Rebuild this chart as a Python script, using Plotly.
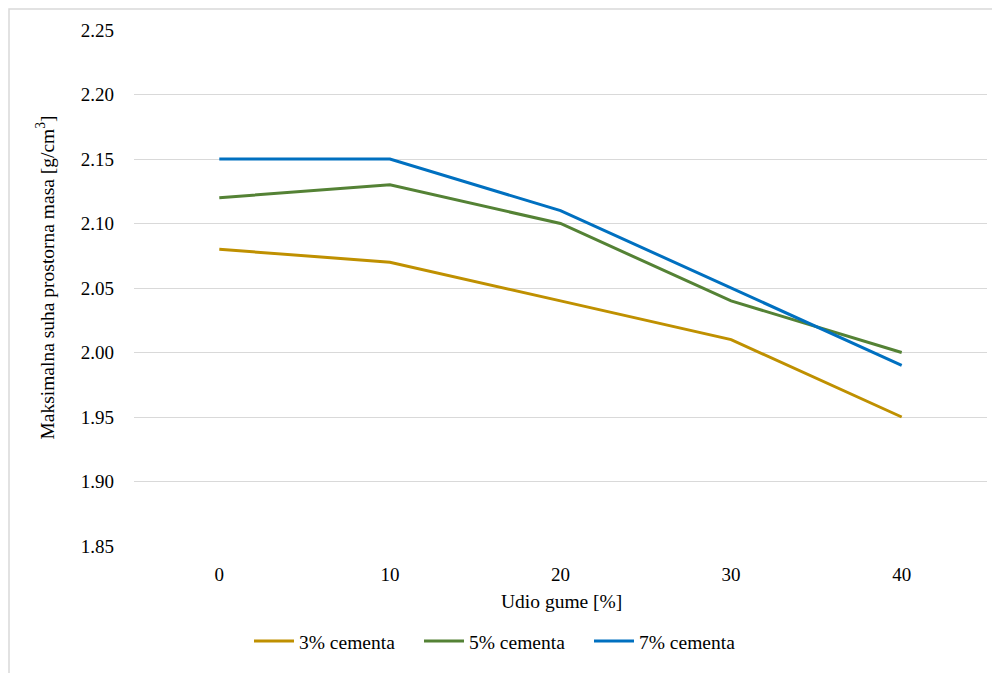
import plotly.graph_objects as go

categories = ["0", "10", "20", "30", "40"]
cem3 = [2.08, 2.07, 2.04, 2.01, 1.95]
cem5 = [2.12, 2.13, 2.10, 2.04, 2.00]
cem7 = [2.15, 2.15, 2.11, 2.05, 1.99]
series_names = ["3% cementa", "5% cementa", "7% cementa"]
colors = ["#BF9000", "#548235", "#0070C0"]
yticks = [1.85, 1.90, 1.95, 2.00, 2.05, 2.10, 2.15, 2.20, 2.25]

FONT = "Liberation Serif, Times New Roman, serif"
OFF = 8  # page body margin
TS = 19  # tick font size
LS = 19.5  # legend font size
AS = 19.5  # axis title font size

fig = go.Figure()
for name, vals, col in zip(series_names, [cem3, cem5, cem7], colors):
    fig.add_trace(go.Scatter(x=categories, y=vals, mode="lines", name=name,
                             line=dict(color=col, width=3)))

W, H = 1000 - OFF, 673 - OFF
L, T = 134 - OFF, 30 - OFF
pw, ph = 853, 519
R, B = W - L - pw, H - T - ph
PB = 549  # plot bottom in page coords


def px_x(x):
    return (x - OFF - L) / pw


def px_y(y):
    return (PB - y) / ph


fig.update_layout(
    width=W, height=H,
    margin=dict(l=L, r=R, t=T, b=B),
    paper_bgcolor="white", plot_bgcolor="white",
    font=dict(family=FONT, size=TS, color="#000000"),
    showlegend=True,
    legend=dict(orientation="h", x=px_x(249), xanchor="left", y=px_y(645),
                yanchor="middle", font=dict(family=FONT, size=LS), itemwidth=40,
                entrywidth=115, entrywidthmode="pixels",
                traceorder="normal"),
    xaxis=dict(type="category", range=[-0.5, 4.5], showgrid=False,
               showline=False, zeroline=False, ticks="", ticklabelstandoff=15,
               tickfont=dict(family=FONT, size=TS)),
    yaxis=dict(range=[1.85, 2.25], tickvals=yticks, tickformat=".2f",
               showgrid=True, gridcolor="#d9d9d9", gridwidth=1,
               zeroline=False, showline=False, ticks="", ticklabelstandoff=19,
               tickfont=dict(family=FONT, size=TS)),
    annotations=[
        dict(text="Udio gume [%]", xref="paper", yref="paper",
             x=px_x(561), y=px_y(605), xanchor="center", yanchor="middle",
             showarrow=False, font=dict(family=FONT, size=AS)),
        dict(text="Maksimalna suha prostorna masa [g/cm<sup>3</sup>]", xref="paper", yref="paper",
             x=px_x(45), y=px_y(279), xanchor="center", yanchor="middle",
             textangle=-90, showarrow=False, font=dict(family=FONT, size=AS)),
    ],
    shapes=[dict(type="rect", xref="paper", yref="paper",
                 x0=px_x(9), x1=px_x(995),
                 y0=px_y(700), y1=px_y(9),
                 line=dict(color="#d9d9d9", width=1.5), fillcolor="rgba(0,0,0,0)",
                 layer="below")],
)

fig.write_html("out.html")
